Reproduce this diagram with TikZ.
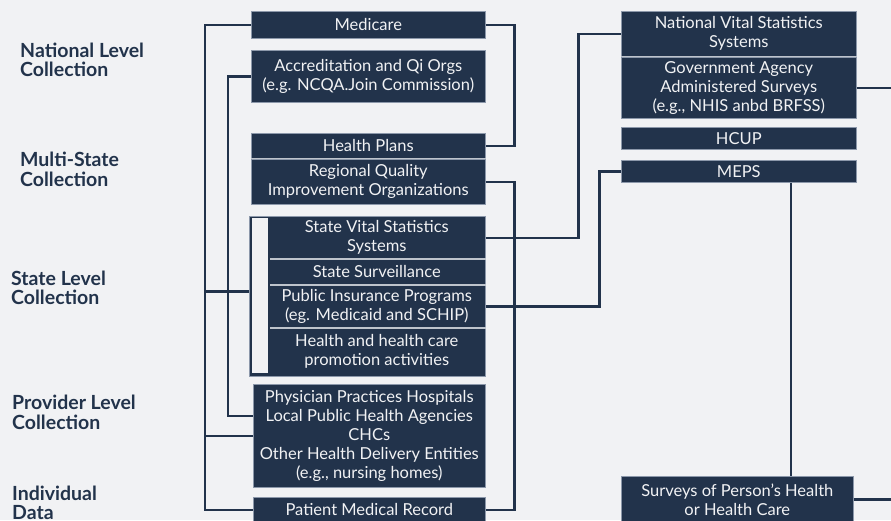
\documentclass[tikz,border=0pt]{standalone}
\usepackage{fontspec}
\setmainfont{Lato}
\usetikzlibrary{positioning}
\definecolor{hcnavy}{RGB}{34,51,75}
\definecolor{hcbg}{RGB}{241,242,244}
\definecolor{hcsep}{RGB}{190,196,204}
\definecolor{hcedge}{RGB}{140,152,170}

\begin{document}
\begin{tikzpicture}[x=1pt,y=-1pt,
      box/.style={fill=hcnavy,draw=hcedge,line width=0.6pt,text=hcbg,align=center,
                  anchor=north west,inner sep=0pt,font=\fontsize{16.5}{19}\selectfont},
      lvl/.style={anchor=west,align=left,text=hcnavy,inner sep=0pt,
                  font=\bfseries\fontsize{19.5}{19.5}\selectfont},
      link/.style={draw=hcnavy,line width=2.6pt},
      sep/.style={draw=hcsep,line width=1.5pt}]
    \fill[hcbg] (0,0) rectangle (891,520);
    \useasboundingbox (0,0) rectangle (891,520);
    \coordinate (redge) at (891,0);
    % level labels
    \node[lvl] (nat) at (20,60)    {National Level\\Collection};
    \node[lvl] (mst) at (20,169.5) {Multi-State\\Collection};
    \node[lvl] (stl) at (11,288)   {State Level\\Collection};
    \node[lvl] (prl) at (12,412.5) {Provider Level\\Collection};
    \node[lvl] (ind) at (12,503)   {Individual\\Data};
    % middle column
    \node[box,minimum width=234,minimum height=27] (med) at (251,11)  {Medicare};
    \node[box,minimum width=234,minimum height=52] (acc) at (251,50)  {Accreditation and Qi Orgs\\(e.g. NCQA.Join Commission)};
    \node[box,minimum width=234,minimum height=25] (hp)  at (251,133) {Health Plans};
    \node[box,minimum width=234,minimum height=45] (rq)  at (251,159) {Regional Quality\\Improvement Organizations};
    \node[box,minimum width=236,minimum height=160] (stblk) at (249,215.5) {};
    \fill[hcbg] (251.5,218) rectangle (268,373);
    \node[box,draw=none,minimum width=217,minimum height=41] (svs) at (268,217) {State Vital Statistics\\Systems};
    \node[box,draw=none,minimum width=217,minimum height=25] (ss)  at (268,259) {State Surveillance};
    \node[box,draw=none,minimum width=217,minimum height=42] (pip) at (268,285) {Public Insurance Programs\\(eg. Medicaid and SCHIP)};
    \node[box,draw=none,minimum width=217,minimum height=47] (hhc) at (268,328) {Health and health care\\promotion activities};
    \node[box,minimum width=232,minimum height=103] (prov) at (253,384) {Physician Practices Hospitals\\Local Public Health Agencies\\CHCs\\Other Health Delivery Entities\\(e.g., nursing homes)};
    \node[box,minimum width=232,minimum height=25] (pmr) at (253,497) {Patient Medical Record};
    % right column
    \node[box,minimum width=235,minimum height=45] (nvs)  at (621,11)  {National Vital Statistics\\Systems};
    \node[box,minimum width=235,minimum height=61] (gov)  at (621,57)  {Government Agency\\Administered Surveys\\(e.g., NHIS anbd BRFSS)};
    \node[box,minimum width=235,minimum height=22] (hcup) at (621,127) {HCUP};
    \node[box,minimum width=235,minimum height=22] (meps) at (621,160) {MEPS};
    \node[box,minimum width=232,minimum height=46] (surv) at (621,476) {Surveys of Person’s Health\\or Health Care};
    % separators
    \draw[sep] (hp.south west) -- (hp.south east);
    \draw[sep] (nvs.south west) -- (nvs.south east);
    \draw[sep] ([xshift=2pt]ss.north west) -- (ss.north east);
    \draw[sep] ([xshift=2pt]pip.north west) -- (pip.north east);
    \draw[sep] ([xshift=2pt]hhc.north west) -- (hhc.north east);
    % connectors
    \draw[link] (med.west) -- ++(-46,0) |- (pmr.west);
    \draw[link] ([yshift=4.5pt]stblk.west) -- ++(-44,0);
    \draw[link] (prov.west) -- ++(-48,0);
    \draw[link] (acc.west) -- ++(-23,0) |- ([yshift=20pt]prov.west);
    \draw[link] (med.east) -- ++(29,0) |- (hp.east);
    \draw[link] (rq.east) -- ++(29,0) |- (pmr.east);
    \draw[link] (svs.east) -- ++(93,0) |- (nvs.west);
    \draw[link] (pip.east) -- ++(114,0) |- (meps.west);
    \draw[link] ([xshift=52pt]meps.south) -- ([xshift=52pt]meps.south |- surv.north);
    \draw[link] (gov.east) -- (gov.east -| redge);
    \draw[link] (surv.east) -- (surv.east -| redge);
  \end{tikzpicture}
\end{document}
